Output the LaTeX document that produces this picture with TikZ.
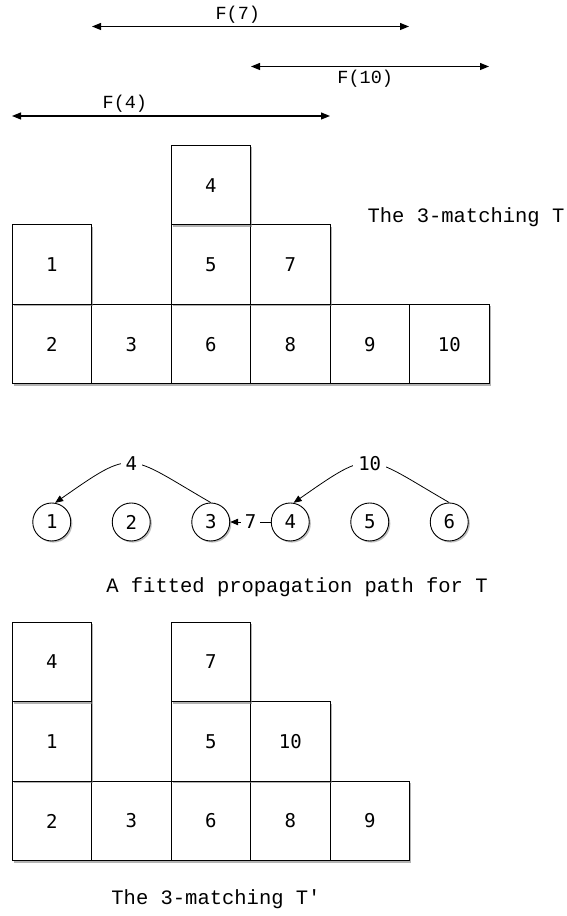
\documentclass[tikz,border=0pt]{standalone}
\usepackage{fontspec}
\setmonofont{Liberation Mono}
\newfontfamily\cellfont{DejaVu Sans Mono}
\usetikzlibrary{shadows,arrows.meta}
\tikzset{
  cell/.style={draw,line width=1pt,fill=white,minimum size=79.5pt,inner sep=0pt,
    font=\cellfont\fontsize{19}{22}\selectfont,
    drop shadow={shadow xshift=1.8pt,shadow yshift=-1.8pt,fill=black!50,opacity=.6}},
  vertex/.style={circle,draw,line width=0.9pt,fill=white,minimum size=38pt,inner sep=0pt,
    font=\cellfont\fontsize{19}{22}\selectfont,
    drop shadow={shadow xshift=1.6pt,shadow yshift=-1.6pt,fill=black!50,opacity=.5}},
  elabel/.style={fill=white,inner sep=5pt,font=\cellfont\fontsize{19}{22}\selectfont},
  pathedge/.style={line width=0.8pt,-{Triangle[length=8pt,width=6.5pt]}},
  span/.style={line width=1.1pt,{Triangle[length=9pt,width=7pt]}-{Triangle[length=9pt,width=7pt]}},
  caption/.style={font=\ttfamily\fontsize{20.5}{24}\selectfont,inner sep=0pt},
  spanlabel/.style={font=\ttfamily\fontsize{18.5}{22}\selectfont,inner sep=2pt}
}
\begin{document}
\begin{tikzpicture}[x=1pt,y=1pt]
	\useasboundingbox (0,0) rectangle (566,916);
	% spans
	\coordinate (f7l) at (92,889.5);   \coordinate (f7r) at (409,889.5);
	\coordinate (f10l) at (251,849.5); \coordinate (f10r) at (489,849.5);
	\coordinate (f4l) at (12,800);     \coordinate (f4r) at (330,800);
	\draw[span] (f7l) -- node[spanlabel,above=1pt,pos=.46] {F(7)} (f7r);
	\draw[span] (f10l) -- node[spanlabel,below=1pt,pos=.48] {F(10)} (f10r);
	\draw[span] (f4l) -- node[spanlabel,above=1pt,pos=.355] {F(4)} (f4r);
	% the 3-matching T
	\node [cell] (t2)  at (51.75,571.75)  {2};
	\node [cell] (t3)  at (131.25,571.75) {3};
	\node [cell] (t6)  at (210.75,571.75) {6};
	\node [cell] (t8)  at (290.25,571.75) {8};
	\node [cell] (t9)  at (369.75,571.75) {9};
	\node [cell] (t10) at (449.25,571.75) {10};
	\node [cell] (t1)  at (51.75,651.25)  {1};
	\node [cell] (t5)  at (210.75,651.25) {5};
	\node [cell] (t7)  at (290.25,651.25) {7};
	\node [cell] (t4)  at (210.75,730.75) {4};
	\node [caption] (capT) at (466,699) {The 3-matching T};
	% propagation path
	\node [vertex] (c1) at (51.75,394)  {1};
	\node [vertex] (c2) at (131.25,394) {2};
	\node [vertex] (c3) at (210.75,394) {3};
	\node [vertex] (c4) at (290.25,394) {4};
	\node [vertex] (c5) at (369.75,394) {5};
	\node [vertex] (c6) at (449.25,394) {6};
	\draw[pathedge] (c3.north) to[out=150,in=35,looseness=1.6] node[elabel] {4} (c1.80);
	\draw[pathedge] (c6.north) to[out=150,in=35,looseness=1.6] node[elabel] {10} (c4.80);
	\draw[pathedge] (c4) -- node[elabel,inner sep=4pt] {7} (c3);
	\node [caption] (capP) at (297,329) {A fitted propagation path for T};
	% the 3-matching T'
	\node [cell] (s2) at (51.75,95)   {2};
	\node [cell] (s3) at (131.25,95)  {3};
	\node [cell] (s6) at (210.75,95)  {6};
	\node [cell] (s8) at (290.25,95)  {8};
	\node [cell] (s9) at (369.75,95)  {9};
	\node [cell] (s1) at (51.75,174.5)  {1};
	\node [cell] (s5) at (210.75,174.5) {5};
	\node [cell] (s10) at (290.25,174.5) {10};
	\node [cell] (s4) at (51.75,254)  {4};
	\node [cell] (s7) at (210.75,254) {7};
	\node [caption] (capS) at (216,17) {The 3-matching T'};
\end{tikzpicture}
\end{document}
